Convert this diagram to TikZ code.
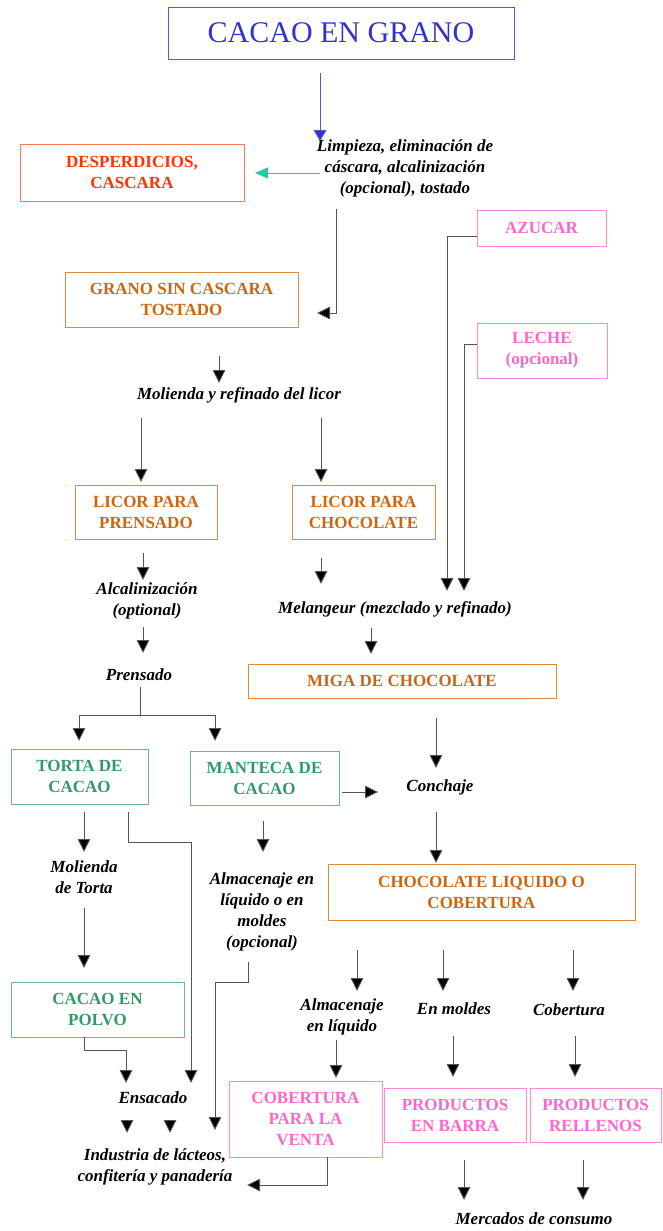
\documentclass[tikz,border=0pt]{standalone}
\usepackage{fontspec}
\setmainfont{Liberation Serif}
\usetikzlibrary{arrows.meta}
\definecolor{tblue}{HTML}{3333CC}
\definecolor{bblue}{HTML}{5555DD}
\definecolor{tred}{HTML}{FF3300}
\definecolor{bred}{HTML}{FF7755}
\definecolor{torange}{HTML}{CC6611}
\definecolor{borange}{HTML}{E08A3A}
\definecolor{tgreen}{HTML}{339966}
\definecolor{bgreen}{HTML}{66BB88}
\definecolor{tpink}{HTML}{FF66CC}
\definecolor{bpink}{HTML}{FF88DD}
\definecolor{agreen}{HTML}{22CC99}
\definecolor{lgray}{HTML}{555555}
\begin{document}
\begin{tikzpicture}[x=1pt,y=-1pt,
  box/.style={draw, line width=0.8pt, align=center, inner sep=0pt,
    font=\bfseries\fontsize{17}{21}\selectfont},
  redbox/.style={box, draw=bred, text=tred},
  orbox/.style={box, draw=borange, text=torange},
  grbox/.style={box, draw=bgreen, text=tgreen},
  pkbox/.style={box, draw=bpink, text=tpink},
  lbl/.style={align=center, inner sep=0pt, font=\bfseries\itshape\fontsize{17}{21}\selectfont},
  arr/.style={draw=lgray, line width=0.9pt, -{Triangle[width=12.5pt,length=13pt,fill=black]}},
  ln/.style={draw=lgray, line width=0.9pt},
]
\useasboundingbox (0,0) rectangle (662,1231);
\fill[white] (0,0) rectangle (662,1231);

% ---------- boxes ----------
\node[box, draw=bblue, text=tblue, font=\fontsize{30}{34}\selectfont, minimum width=346, minimum height=52] (title) at (341,33) {CACAO EN GRANO};
\node[redbox, minimum width=224, minimum height=57] (desp) at (132,172.5) {DESPERDICIOS,\\CASCARA};
\node[pkbox, minimum width=129, minimum height=36] (azucar) at (541.5,228) {AZUCAR};
\node[orbox, minimum width=233, minimum height=55] (grano) at (181.5,299.5) {GRANO SIN CASCARA\\TOSTADO};
\node[pkbox, minimum width=130, minimum height=55] (leche) at (542,350.5) {LECHE\\(opcional)};
\node[orbox, minimum width=142, minimum height=54] (licorp) at (146,512) {LICOR PARA\\PRENSADO};
\node[orbox, minimum width=143, minimum height=54] (licorc) at (363.5,512) {LICOR PARA\\CHOCOLATE};
\node[orbox, minimum width=308, minimum height=34] (miga) at (402,681) {MIGA DE CHOCOLATE};
\node[grbox, minimum width=137, minimum height=55] (torta) at (79.5,776.5) {TORTA DE\\CACAO};
\node[grbox, minimum width=149, minimum height=54] (manteca) at (264.5,778) {MANTECA DE\\CACAO};
\node[orbox, minimum width=307, minimum height=56] (choco) at (481.5,892) {CHOCOLATE LIQUIDO O\\COBERTURA};
\node[grbox, minimum width=173, minimum height=55] (polvo) at (97.5,1009.5) {CACAO EN\\POLVO};
\node[pkbox, minimum width=153, minimum height=76] (cobventa) at (305.5,1119) {COBERTURA\\PARA LA\\VENTA};
\node[pkbox, minimum width=142, minimum height=54] (barra) at (455,1115) {PRODUCTOS\\EN BARRA};
\node[pkbox, minimum width=131, minimum height=54] (rellenos) at (595.5,1115) {PRODUCTOS\\RELLENOS};

% ---------- labels ----------
\node[lbl] (limp) at (405,168) {Limpieza, eliminación de\\cáscara, alcalinización\\(opcional), tostado};
\node[lbl] (molienda) at (239,395) {Molienda y refinado del licor};
\node[lbl] (alcal) at (147,601) {Alcalinización\\(optional)};
\node[lbl] (prensado) at (139,675) {Prensado};
\node[lbl] (melang) at (395,609) {Melangeur (mezclado y refinado)};
\node[lbl] (conchaje) at (440,787) {Conchaje};
\node[lbl] (moltorta) at (84,877.5) {Molienda\\de Torta};
\node[lbl] (almac1) at (262,912) {Almacenaje en\\líquido o en\\moldes\\(opcional)};
\node[lbl] (almac2) at (342,1017) {Almacenaje\\en líquido};
\node[lbl] (enmoldes) at (454,1009) {En moldes};
\node[lbl] (cobl) at (569,1010) {Cobertura};
\node[lbl] (ensacado) at (153,1098) {Ensacado};
\node[lbl] (industria) at (155,1166.5) {Industria de lácteos,\\confitería y panadería};
\node[lbl] (mercados) at (534,1219) {Mercados de consumo};

% ---------- connector end points ----------
\coordinate (c1a) at (320,73);   \coordinate (c1b) at (320,141);
\coordinate (c2a) at (320,173);  \coordinate (c2b) at (255,173);
\coordinate (c3a) at (336,209);  \coordinate (c3m) at (336,313); \coordinate (c3b) at (317,313);
\coordinate (c4m) at (447,236);  \coordinate (c4b) at (447,591);
\coordinate (c5m) at (464,344);  \coordinate (c5b) at (464,591);
\coordinate (c6a) at (219,356);  \coordinate (c6b) at (219,383);
\coordinate (c7a) at (141,418);  \coordinate (c7b) at (141,482);
\coordinate (c8a) at (321,418);  \coordinate (c8b) at (321,482);
\coordinate (c9a) at (143,553);  \coordinate (c9b) at (143,580);
\coordinate (c10a) at (143,627); \coordinate (c10b) at (143,653);
\coordinate (c11a) at (140,687); \coordinate (c11m) at (140,715);
\coordinate (c11l) at (79,741);  \coordinate (c11r) at (215,741);
\coordinate (c12a) at (321,558); \coordinate (c12b) at (321,584);
\coordinate (c13a) at (371,628); \coordinate (c13b) at (371,654);
\coordinate (c14a) at (436,718); \coordinate (c14b) at (436,768);
\coordinate (c15a) at (342,792); \coordinate (c15b) at (378,792);
\coordinate (c16a) at (436,812); \coordinate (c16b) at (436,863);
\coordinate (c17a) at (84,812);  \coordinate (c17b) at (84,852);
\coordinate (c18a) at (84,908);  \coordinate (c18b) at (84,968);
\coordinate (c19a) at (128,812); \coordinate (c19m) at (128,842); \coordinate (c19n) at (191,842); \coordinate (c19b) at (191,1083);
\coordinate (c20a) at (263,821); \coordinate (c20b) at (263,852);
\coordinate (c21a) at (248,962); \coordinate (c21m) at (248,982); \coordinate (c21n) at (215,982); \coordinate (c21b) at (215,1130);
\coordinate (c22a) at (357,950); \coordinate (c22b) at (357,991);
\coordinate (c23a) at (443,950); \coordinate (c23b) at (443,991);
\coordinate (c24a) at (573,950); \coordinate (c24b) at (573,991);
\coordinate (c25a) at (84,1037); \coordinate (c25m) at (84,1050); \coordinate (c25n) at (126,1050); \coordinate (c25b) at (126,1083);
\coordinate (c26a) at (127,1122); \coordinate (c26b) at (127,1133);
\coordinate (c27a) at (170,1122); \coordinate (c27b) at (170,1133);
\coordinate (c28a) at (336,1040); \coordinate (c28b) at (336,1078);
\coordinate (c29a) at (453,1036); \coordinate (c29b) at (453,1077);
\coordinate (c30a) at (575,1036); \coordinate (c30b) at (575,1077);
\coordinate (c31a) at (327,1157); \coordinate (c31m) at (327,1185); \coordinate (c31b) at (247,1185);
\coordinate (c32a) at (464,1160); \coordinate (c32b) at (464,1200);
\coordinate (c33a) at (583,1160); \coordinate (c33b) at (583,1200);

% ---------- connectors ----------
\draw[draw=bblue, line width=0.9pt, -{Triangle[width=13pt,length=11pt,fill=tblue]}] (c1a) -- (c1b);
\draw[draw=agreen, line width=0.9pt, -{Triangle[width=11pt,length=13pt,fill=agreen]}] (c2a) -- (c2b);
\draw[arr] (c3a) -- (c3m) -- (c3b);
\draw[arr] (azucar.west |- c4m) -- (c4m) -- (c4b);
\draw[arr] (leche.west |- c5m) -- (c5m) -- (c5b);
\draw[arr] (c6a) -- (c6b);
\draw[arr] (c7a) -- (c7b);
\draw[arr] (c8a) -- (c8b);
\draw[arr] (c9a) -- (c9b);
\draw[arr] (c10a) -- (c10b);
\draw[ln] (c11a) -- (c11m);
\draw[arr] (c11m) -| (c11l);
\draw[arr] (c11m) -| (c11r);
\draw[arr] (c12a) -- (c12b);
\draw[arr] (c13a) -- (c13b);
\draw[arr] (c14a) -- (c14b);
\draw[arr] (c15a) -- (c15b);
\draw[arr] (c16a) -- (c16b);
\draw[arr] (c17a) -- (c17b);
\draw[arr] (c18a) -- (c18b);
\draw[arr] (c19a) -- (c19m) -- (c19n) -- (c19b);
\draw[arr] (c20a) -- (c20b);
\draw[arr] (c21a) -- (c21m) -- (c21n) -- (c21b);
\draw[arr] (c22a) -- (c22b);
\draw[arr] (c23a) -- (c23b);
\draw[arr] (c24a) -- (c24b);
\draw[arr] (c25a) -- (c25m) -- (c25n) -- (c25b);
\draw[arr] (c26a) -- (c26b);
\draw[arr] (c27a) -- (c27b);
\draw[arr] (c28a) -- (c28b);
\draw[arr] (c29a) -- (c29b);
\draw[arr] (c30a) -- (c30b);
\draw[arr] (c31a) -- (c31m) -- (c31b);
\draw[arr] (c32a) -- (c32b);
\draw[arr] (c33a) -- (c33b);
\end{tikzpicture}
\end{document}
